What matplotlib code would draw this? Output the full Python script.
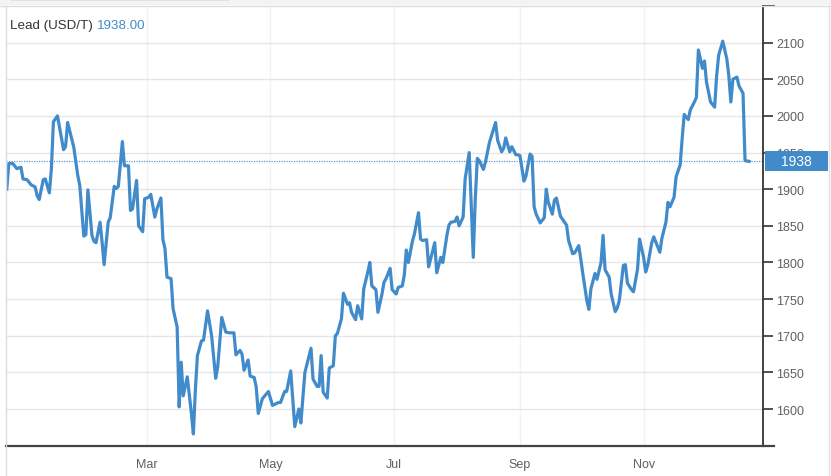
import matplotlib
matplotlib.use("Agg")
import matplotlib.pyplot as plt
from matplotlib.lines import Line2D
from matplotlib.patches import Rectangle
from matplotlib.transforms import IdentityTransform
import pandas as pd

title_name = "Lead (USD/T)"
last_label = "1938.00"
last_value = 1938

dates = [
"2019-12-23","2019-12-24","2019-12-26","2019-12-28","2019-12-30","2019-12-31",
"2020-01-02","2020-01-04","2020-01-06","2020-01-07","2020-01-08","2020-01-10","2020-01-11","2020-01-13","2020-01-14","2020-01-15","2020-01-17","2020-01-20","2020-01-21","2020-01-22","2020-01-25","2020-01-27","2020-01-28","2020-01-30","2020-01-31",
"2020-02-01","2020-02-03","2020-02-04","2020-02-05","2020-02-07","2020-02-08","2020-02-09","2020-02-11","2020-02-12","2020-02-14","2020-02-15","2020-02-16","2020-02-18","2020-02-19","2020-02-21","2020-02-22","2020-02-23","2020-02-25","2020-02-26","2020-02-28","2020-02-29",
"2020-03-02","2020-03-03","2020-03-05","2020-03-06","2020-03-08","2020-03-09","2020-03-10","2020-03-11","2020-03-13","2020-03-14","2020-03-16","2020-03-17","2020-03-18","2020-03-19","2020-03-21","2020-03-23","2020-03-24","2020-03-25","2020-03-26","2020-03-28","2020-03-29","2020-03-31",
"2020-04-02","2020-04-04","2020-04-05","2020-04-07","2020-04-09","2020-04-11","2020-04-13","2020-04-14","2020-04-16","2020-04-17","2020-04-18","2020-04-20","2020-04-21","2020-04-23","2020-04-24","2020-04-25","2020-04-27","2020-04-30",
"2020-05-02","2020-05-05","2020-05-06","2020-05-08","2020-05-09","2020-05-11","2020-05-13","2020-05-15","2020-05-16","2020-05-18","2020-05-21","2020-05-22","2020-05-24","2020-05-25","2020-05-26","2020-05-27","2020-05-29","2020-05-30",
"2020-06-01","2020-06-02","2020-06-03","2020-06-05","2020-06-06","2020-06-08","2020-06-09","2020-06-10","2020-06-12","2020-06-13","2020-06-15","2020-06-16","2020-06-18","2020-06-19","2020-06-20","2020-06-22","2020-06-23","2020-06-25","2020-06-26","2020-06-27","2020-06-29","2020-06-30",
"2020-07-02","2020-07-03","2020-07-05","2020-07-06","2020-07-07","2020-07-08","2020-07-10","2020-07-11","2020-07-13","2020-07-14","2020-07-15","2020-07-17","2020-07-18","2020-07-20","2020-07-21","2020-07-22","2020-07-24","2020-07-25","2020-07-27","2020-07-28","2020-07-29","2020-07-31",
"2020-08-01","2020-08-02","2020-08-04","2020-08-05","2020-08-07","2020-08-09","2020-08-10","2020-08-11","2020-08-12","2020-08-14","2020-08-15","2020-08-17","2020-08-20","2020-08-21","2020-08-23","2020-08-24","2020-08-25","2020-08-27","2020-08-28","2020-08-30","2020-08-31",
"2020-09-01","2020-09-03","2020-09-04","2020-09-06","2020-09-07","2020-09-08","2020-09-09","2020-09-11","2020-09-13","2020-09-14","2020-09-15","2020-09-17","2020-09-18","2020-09-19","2020-09-21","2020-09-22","2020-09-24","2020-09-25","2020-09-27","2020-09-28","2020-09-30",
"2020-10-01","2020-10-02","2020-10-04","2020-10-05","2020-10-06","2020-10-08","2020-10-09","2020-10-11","2020-10-12","2020-10-13","2020-10-15","2020-10-16","2020-10-18","2020-10-19","2020-10-20","2020-10-22","2020-10-23","2020-10-24","2020-10-26","2020-10-27","2020-10-29","2020-10-30",
"2020-11-01","2020-11-02","2020-11-03","2020-11-05","2020-11-06","2020-11-07","2020-11-09","2020-11-10","2020-11-12","2020-11-13","2020-11-14","2020-11-16","2020-11-17","2020-11-19","2020-11-20","2020-11-21","2020-11-23","2020-11-24","2020-11-26","2020-11-27","2020-11-28","2020-11-30",
"2020-12-01","2020-12-02","2020-12-04","2020-12-06","2020-12-07","2020-12-08","2020-12-10","2020-12-12","2020-12-13","2020-12-14","2020-12-15","2020-12-17","2020-12-18","2020-12-20","2020-12-21","2020-12-23",
]

values = [
1900,1935,1935,1928,1930,1914,
1913,1906,1903,1891,1886,1913,1914,1895,1928,1992,2000,1954,1958,1991,1958,1919,1905,1836,1838,
1899,1837,1829,1827,1855,1828,1797,1855,1861,1904,1901,1904,1965,1932,1932,1871,1873,1912,1850,1842,1887,
1889,1893,1862,1873,1888,1831,1819,1780,1778,1737,1712,1603,1664,1618,1644,1595,1566,1627,1673,1693,1694,1734,
1700,1642,1657,1725,1705,1704,1704,1674,1680,1675,1653,1667,1645,1643,1630,1594,1614,1624,
1605,1609,1609,1624,1624,1652,1576,1600,1581,1650,1683,1641,1631,1631,1673,1623,1615,1656,
1659,1700,1703,1723,1758,1743,1745,1732,1722,1741,1723,1764,1787,1800,1768,1763,1732,1757,1773,1778,1792,1763,
1757,1766,1768,1783,1817,1800,1829,1839,1868,1832,1830,1831,1794,1816,1827,1786,1807,1800,1837,1851,1855,1856,
1862,1850,1862,1914,1950,1807,1887,1942,1939,1927,1937,1964,1991,1967,1951,1956,1970,1951,1958,1947,1947,
1946,1911,1918,1948,1945,1876,1866,1854,1861,1900,1882,1866,1885,1888,1863,1859,1851,1830,1812,1813,1823,
1805,1785,1748,1736,1764,1785,1777,1800,1837,1790,1780,1757,1733,1738,1748,1796,1797,1772,1763,1760,1791,1832,
1807,1787,1796,1827,1835,1828,1814,1833,1855,1882,1876,1889,1917,1933,1969,2002,1995,2008,2019,2025,2090,2065,
2075,2046,2019,2012,2055,2083,2102,2078,2055,2019,2050,2053,2041,2031,1939,1938,
]

y_ticks = [1600, 1650, 1700, 1750, 1800, 1850, 1900, 1950, 2000, 2050, 2100]
x_tick_dates = ["2020-03-01", "2020-05-01", "2020-07-01", "2020-09-01", "2020-11-01"]
x_tick_labels = ["Mar", "May", "Jul", "Sep", "Nov"]

BLUE = "#428bca"
plt.rcParams['font.family'] = ['Liberation Sans', 'DejaVu Sans']

W, H = 831, 477
fig = plt.figure(figsize=(W / 100, H / 100), dpi=100)
fig.patch.set_facecolor("white")

L, R, T, B = 6, 763.3, 7, 446.7
ax = fig.add_axes([L / W, 1 - B / H, (R - L) / W, (B - T) / H])

dts = pd.to_datetime(dates)
ax.plot(dts, values, color=BLUE, lw=2.3, solid_joinstyle="round", zorder=3)

ax.set_xlim(pd.Timestamp("2019-12-22 15:00"), pd.Timestamp("2020-12-30"))
ax.set_ylim(1550, 2150)

ax.set_xticks(pd.to_datetime(x_tick_dates))
ax.set_xticklabels(x_tick_labels)
ax.set_yticks(y_ticks)
ax.set_yticklabels([str(v) for v in y_ticks])

ax.yaxis.tick_right()
ax.tick_params(axis="y", direction="out", length=7.5, width=1.2, color="#333333",
               labelsize=9, labelcolor="#606060", pad=2)
ax.tick_params(axis="x", length=0, labelsize=9, labelcolor="#606060", pad=9)

ax.grid(axis="y", color="#e6e6e6", lw=1.0, zorder=0)
ax.grid(axis="x", color="#eef3f8", lw=1.0, zorder=0)

for s in ["top", "left"]:
    ax.spines[s].set_visible(False)
ax.spines["right"].set_color("#333333")
ax.spines["right"].set_linewidth(1.3)
ax.spines["bottom"].set_color("#444444")
ax.spines["bottom"].set_linewidth(1.6)

# bottom / top line extension past the right axis
ext = 10.7 / (R - L)
ax.add_line(Line2D([1, 1 + ext], [0, 0], transform=ax.transAxes, color="#444444",
                   lw=1.6, clip_on=False))
ax.add_line(Line2D([1, 1 + ext], [1, 1], transform=ax.transAxes, color="#333333",
                   lw=1.2, clip_on=False))

# last value dotted line
ax.axhline(last_value, color=BLUE, lw=0.9, ls=(0, (1, 1)), alpha=0.85, zorder=2)

# last value box on the axis (pixel-sized, centred on the value)
disp_y = ax.transData.transform((0, last_value))[1]
ax.add_patch(Rectangle((R + 2, disp_y - 10), 63, 20, transform=IdentityTransform(),
                       facecolor=BLUE, edgecolor="none", clip_on=False, zorder=10))
ax.text(R + 33, disp_y, str(last_value), transform=IdentityTransform(),
        color="white", fontsize=10, ha="center", va="center", zorder=11, clip_on=False)

# title
t1 = fig.text(10 / W, 1 - 26 / H, title_name + " ", color="#333333", fontsize=9.6,
              va="center", ha="left")
fig.canvas.draw()
bb = t1.get_window_extent()
fig.text(bb.x1 / W, 1 - 26 / H, last_label, color=BLUE, fontsize=9.6, va="center", ha="left")

# outer decorations
fig.patches.append(Rectangle((0, 1 - 6 / H), 1, 6 / H, transform=fig.transFigure,
                             facecolor="#f3f3f3", edgecolor="none", zorder=0))
fig.patches.append(Rectangle((10 / W, 1 - 2 / H), 220 / W, 2 / H, transform=fig.transFigure,
                             facecolor="#e2e2e2", edgecolor="none", zorder=0))
fig.lines.append(Line2D([0, 1], [1 - 6.5 / H, 1 - 6.5 / H], transform=fig.transFigure,
                        color="#dddddd", lw=1))
fig.lines.append(Line2D([5.5 / W, 5.5 / W], [0, 1 - 6.5 / H], transform=fig.transFigure,
                        color="#dddddd", lw=1))
fig.lines.append(Line2D([828.5 / W, 828.5 / W], [0, 1 - 6.5 / H], transform=fig.transFigure,
                        color="#dddddd", lw=1))

fig.savefig("out.png", dpi=100, facecolor="white")
